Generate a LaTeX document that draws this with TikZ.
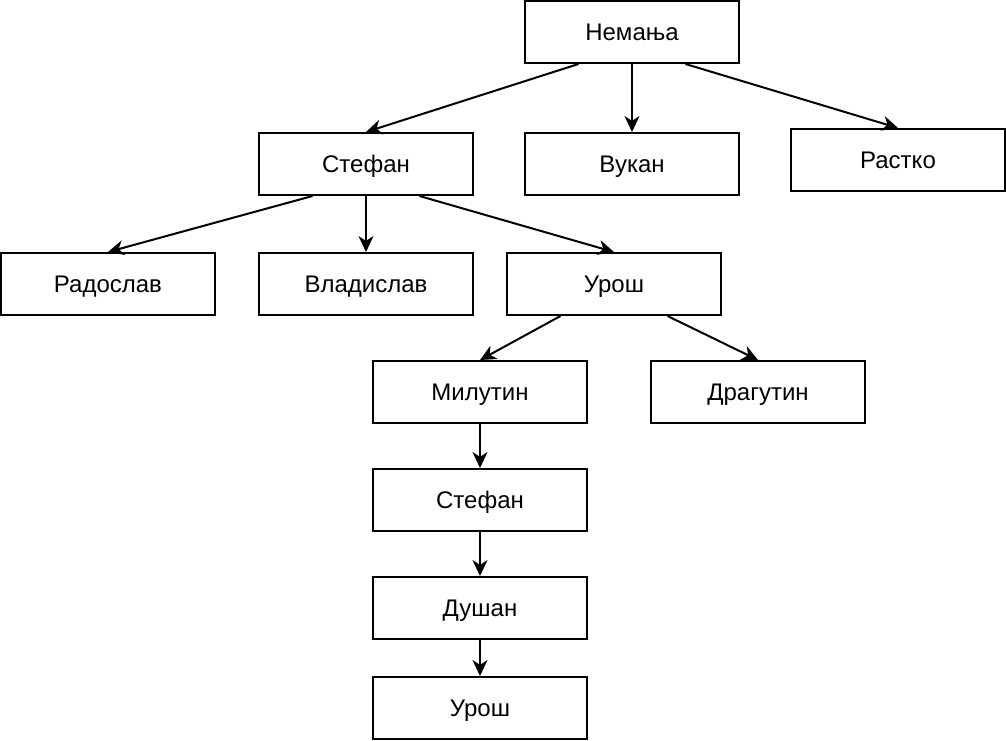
\documentclass[tikz,border=0pt]{standalone}
\usepackage{fontspec}
\setmainfont{Liberation Sans}
\usepackage{tikz}
\usetikzlibrary{arrows.meta,positioning}

\begin{document}
\begin{tikzpicture}[x=1pt,y=-1pt,
  every node/.style={font=\fontsize{24}{28}\selectfont},
  person/.style={rectangle,draw=black,line width=2pt,fill=white,
        minimum width=214pt,minimum height=62pt,inner sep=0pt,
        text height=17pt,text depth=0pt},
  link/.style={line width=2pt,-{Stealth[length=16pt,width=15pt,inset=5pt]}}]
  \useasboundingbox (0,0) rectangle (1006,740);
  % Nemanja and sons
  \node[person] at (632,32) (nem) {Немања};
  \node[person] at (366,164) (stef) {Стефан};
  \node[person] at (632,164) (vuk) {Вукан};
  \node[person] at (898,160) (rast) {Растко};
  % Stefan's sons
  \node[person] at (108,284) (rad) {Радослав};
  \node[person] at (366,284) (vla) {Владислав};
  \node[person] at (614,284) (uros) {Урош};
  % Uros' sons
  \node[person] at (480,392) (mil) {Милутин};
  \node[person] at (758,392) (dra) {Драгутин};
  % Milutin's line
  \node[person] at (480,500) (stef2) {Стефан};
  \node[person] at (480,608) (dus) {Душан};
  \node[person] at (480,708) (uros2) {Урош};

  \draw[link] ([xshift=-53.5pt]nem.south) -- (stef.north);
  \draw[link] (nem.south) -- (vuk.north);
  \draw[link] ([xshift=53.5pt]nem.south) -- (rast.north);
  \draw[link] ([xshift=-53.5pt]stef.south) -- (rad.north);
  \draw[link] (stef.south) -- (vla.north);
  \draw[link] ([xshift=53.5pt]stef.south) -- (uros.north);
  \draw[link] ([xshift=-53.5pt]uros.south) -- (mil.north);
  \draw[link] ([xshift=53.5pt]uros.south) -- (dra.north);
  \draw[link] (mil) -- (stef2);
  \draw[link] (stef2) -- (dus);
  \draw[link] (dus) -- (uros2);
\end{tikzpicture}
\end{document}
